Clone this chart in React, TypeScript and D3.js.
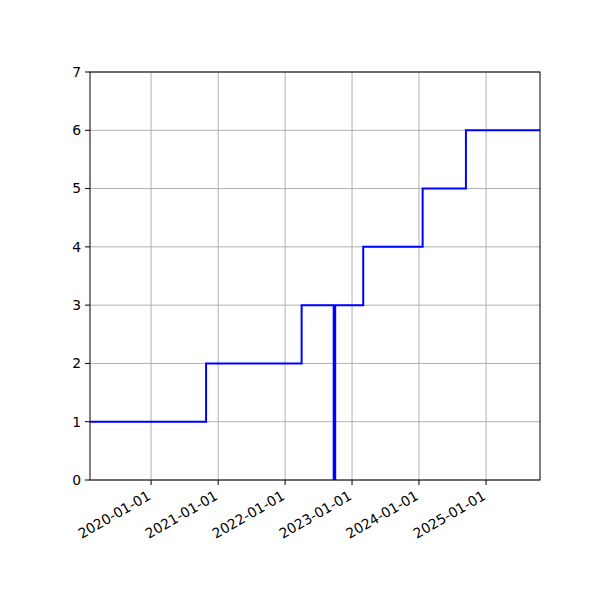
import * as d3 from 'd3';
import { useEffect, useRef } from 'react';

// step series: value holds from each date until the next one
const stepDates = ['2019-02-02', '2020-10-27', '2022-04-01', '2023-03-03', '2024-01-21', '2024-09-13', '2025-10-22'];
const stepValues = [1, 2, 3, 4, 5, 6, 6];

// the thick vertical marker
const markerDate = '2022-09-27';
const markerRange = [0, 3];

const xTickLabels = ['2020-01-01', '2021-01-01', '2022-01-01', '2023-01-01', '2024-01-01', '2025-01-01'];
const yTicks = [0, 1, 2, 3, 4, 5, 6, 7];

const width = 600;
const height = 600;
const margin = { top: 72, right: 60, bottom: 120, left: 90 };

const parse = d3.utcParse('%Y-%m-%d');

const App = () => {
    const ref = useRef<SVGSVGElement | null>(null);

    useEffect(() => {
        const svg = d3.select(ref.current)
            .attr('width', width)
            .attr('height', height);
        svg.selectAll('*').remove();

        const xScale = d3.scaleUtc()
            .domain([parse(stepDates[0])!, parse(stepDates[stepDates.length - 1])!])
            .range([margin.left, width - margin.right]);

        const yScale = d3.scaleLinear()
            .domain([0, 7])
            .range([height - margin.bottom, margin.top]);

        const font = 'DejaVu Sans, sans-serif';

        // grid
        const grid = svg.append('g');
        xTickLabels.forEach(t => {
            const x = xScale(parse(t)!);
            grid.append('line')
                .attr('x1', x).attr('x2', x)
                .attr('y1', margin.top).attr('y2', height - margin.bottom)
                .attr('stroke', '#b0b0b0').attr('stroke-width', 1);
        });
        yTicks.forEach(t => {
            const y = yScale(t);
            grid.append('line')
                .attr('x1', margin.left).attr('x2', width - margin.right)
                .attr('y1', y).attr('y2', y)
                .attr('stroke', '#b0b0b0').attr('stroke-width', 1);
        });

        const data = stepDates.map((d, i) => ({ date: parse(d)!, value: stepValues[i] }));

        const line = d3.line<{ date: Date; value: number }>()
            .x(d => xScale(d.date))
            .y(d => yScale(d.value))
            .curve(d3.curveStepAfter);

        const plot = svg.append('g');

        plot.append('path')
            .attr('d', line(data))
            .attr('fill', 'none')
            .attr('stroke', '#0000ff')
            .attr('stroke-width', 2);

        const mx = xScale(parse(markerDate)!);
        plot.append('line')
            .attr('x1', mx).attr('x2', mx)
            .attr('y1', yScale(markerRange[0])).attr('y2', yScale(markerRange[1]))
            .attr('stroke', '#0000ff')
            .attr('stroke-width', 3.5);

        // frame
        svg.append('rect')
            .attr('x', margin.left).attr('y', margin.top)
            .attr('width', width - margin.left - margin.right)
            .attr('height', height - margin.top - margin.bottom)
            .attr('fill', 'none')
            .attr('stroke', 'black')
            .attr('stroke-width', 1);

        // y ticks
        yTicks.forEach(t => {
            const y = yScale(t);
            svg.append('line')
                .attr('x1', margin.left - 5).attr('x2', margin.left)
                .attr('y1', y).attr('y2', y)
                .attr('stroke', 'black').attr('stroke-width', 1);
            svg.append('text')
                .attr('x', margin.left - 9)
                .attr('y', y)
                .attr('dy', '0.35em')
                .attr('text-anchor', 'end')
                .attr('font-family', font)
                .attr('font-size', 13.9)
                .text(t);
        });

        // x ticks, rotated labels
        xTickLabels.forEach(t => {
            const x = xScale(parse(t)!);
            const yb = height - margin.bottom;
            svg.append('line')
                .attr('x1', x).attr('x2', x)
                .attr('y1', yb).attr('y2', yb + 5)
                .attr('stroke', 'black').attr('stroke-width', 1);
            svg.append('text')
                .attr('transform', `translate(${x - 5},${yb + 9}) rotate(-30)`)
                .attr('dy', '0.8em')
                .attr('text-anchor', 'end')
                .attr('font-family', font)
                .attr('font-size', 13.9)
                .text(t);
        });
    }, [ref]);

    return <svg ref={ref} style={{ display: 'block', position: 'absolute', left: 0, top: 0 }} />;
};

export default App;
